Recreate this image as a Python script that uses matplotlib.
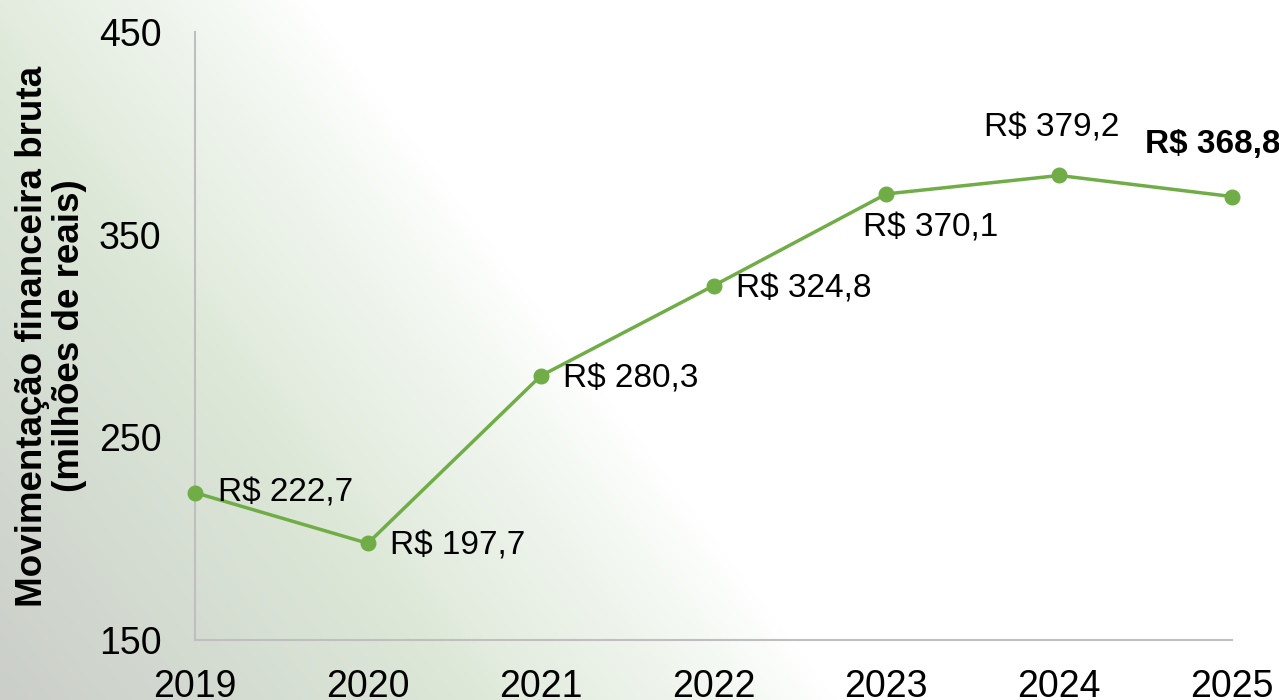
import numpy as np
import matplotlib
matplotlib.use("Agg")
import matplotlib.pyplot as plt

plt.rcParams["font.family"] = ["Liberation Sans", "DejaVu Sans"]

# dados
anos = ["2019", "2020", "2021", "2022", "2023", "2024", "2025"]
valores = [222.7, 197.7, 280.3, 324.8, 370.1, 379.2, 368.8]
rotulos = ["R$ 222,7", "R$ 197,7", "R$ 280,3", "R$ 324,8", "R$ 370,1", "R$ 379,2", "R$ 368,8"]
y_ticks = [150, 250, 350, 450]

VERDE = "#70AD47"
W, H = 1279, 700

fig = plt.figure(figsize=(W / 100, H / 100), dpi=100)

# fundo em degradê diagonal (cinza -> verde claro -> branco)
xx, yy = np.meshgrid(np.arange(W), np.arange(H))
s = (xx * 700 - yy * 530) / 878.0
stops = [-422, -211, -43, 0, 115, 200, 245]
cores = ["#CBCEC9", "#D5DDD2", "#DDE8D8", "#E3ECDF", "#EEF4EC", "#F8FBF7", "#FFFFFF"]
rgb = np.array([matplotlib.colors.to_rgb(c) for c in cores])
img = np.dstack([np.interp(s, stops, rgb[:, k]) for k in range(3)])
bg = fig.add_axes([0, 0, 1, 1], zorder=-1)
bg.imshow(img, aspect="auto", extent=[0, 1, 0, 1], origin="upper")
bg.axis("off")

ax = fig.add_axes([195 / W, 1 - 640 / H, (1232 - 195) / W, (640 - 32) / H])
ax.set_facecolor("none")

x = np.arange(len(anos))
ax.plot(x, valores, color=VERDE, lw=2.5, marker="o", ms=10.5, zorder=3, clip_on=False)

# posição dos rótulos (offset em pixels)
offsets = [(23, 0), (22, -3), (22, -3), (23, -3), (44, -34), (-7, 47), (-19, 52)]
for i, (v, txt) in enumerate(zip(valores, rotulos)):
    dx, dy = offsets[i]
    ha = "left" if dx > 15 and abs(dy) < 10 else "center"
    ax.annotate(txt, (x[i], v), xytext=(dx, dy), textcoords="offset pixels",
                ha=ha, va="center", fontsize=24,
                fontweight="bold" if i == len(anos) - 1 else "normal")

ax.set_xlim(0, len(anos) - 1)
ax.set_ylim(150, 450)
ax.set_xticks(x)
ax.set_xticklabels(anos)
ax.set_yticks(y_ticks)
ax.tick_params(axis="both", length=0, labelsize=27)
ax.tick_params(axis="x", pad=21)
ax.tick_params(axis="y", pad=24)

for side in ["top", "right"]:
    ax.spines[side].set_visible(False)
for side in ["left", "bottom"]:
    ax.spines[side].set_color("#BFBFBF")
    ax.spines[side].set_linewidth(1.5)

ax.set_ylabel("Movimentação financeira bruta\n(milhões de reais)", fontsize=26.5,
              fontweight="bold", linespacing=1.05, labelpad=9)

fig.savefig("out.png", dpi=100)
